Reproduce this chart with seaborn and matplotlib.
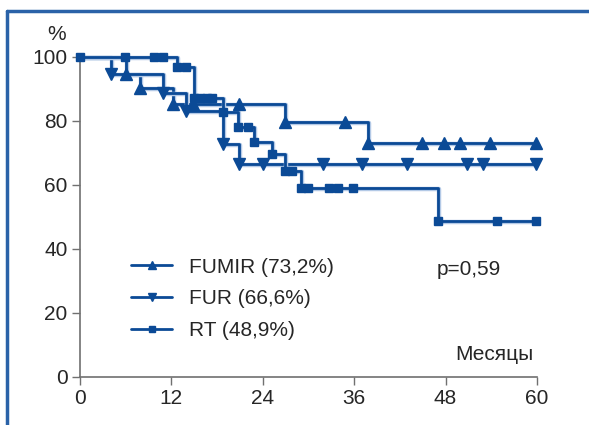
import numpy as np
import pandas as pd
import matplotlib
matplotlib.use("Agg")
import matplotlib.pyplot as plt
import matplotlib.patheffects as pe
from matplotlib.lines import Line2D
import seaborn as sns

# Kaplan-Meier: temps (mois) et survie (%) pour chaque point marqué
fumir_t = [0, 6.0, 7.9, 12.2, 14.8, 20.9, 26.9, 34.8, 37.8, 44.9, 47.8, 49.9, 53.8, 59.9]
fumir_s = [100, 94.8, 90.3, 85.2, 85.2, 85.2, 79.7, 79.7, 73.2, 73.2, 73.2, 73.2, 73.2, 73.2]

fur_t = [0, 4.1, 10.9, 13.9, 18.8, 20.9, 24.0, 31.9, 37.0, 42.9, 50.8, 52.9, 59.9]
fur_s = [100, 94.7, 88.8, 83.1, 72.8, 66.6, 66.6, 66.6, 66.6, 66.6, 66.6, 66.6, 66.6]

rt_t = [0, 5.9, 9.7, 10.9, 12.7, 13.9, 15.0, 15.8, 16.7, 17.3, 18.8, 20.7, 22.1,
        22.8, 25.2, 26.9, 27.8, 29.0, 29.9, 32.7, 33.9, 35.8, 47.0, 54.7, 59.9]
rt_s = [100, 100, 100, 100, 97.0, 97.0, 87.2, 87.2, 87.2, 87.2, 82.8, 78.2, 78.2,
        73.4, 69.7, 64.4, 64.4, 59.2, 59.2, 59.2, 59.2, 59.2, 48.9, 48.9, 48.9]

labels = ["FUMIR (73,2%)", "FUR (66,6%)", "RT (48,9%)"]
x_ticks = [0, 12, 24, 36, 48, 60]
y_ticks = [0, 20, 40, 60, 80, 100]

frames = []
for lab, t, s in zip(labels, [fumir_t, fur_t, rt_t], [fumir_s, fur_s, rt_s]):
    frames.append(pd.DataFrame({"mois": t, "survie": s, "groupe": lab}))
df = pd.concat(frames, ignore_index=True)

sns.set_style("white")
plt.rcParams["font.family"] = ["Liberation Sans Narrow", "Liberation Sans", "DejaVu Sans"]

bleu = "#0b4a96"
ombre = [pe.Stroke(linewidth=3.2, foreground="#b3c9e6", offset=(0.8, -0.8)), pe.Normal()]

fig = plt.figure(figsize=(5.89, 4.25), dpi=100)
ax = fig.add_axes([80 / 589, 1 - 377 / 425, 457 / 589, 320 / 425])

markers = {"FUMIR (73,2%)": "^", "FUR (66,6%)": "v", "RT (48,9%)": "s"}
msize = {"FUMIR (73,2%)": 8, "FUR (66,6%)": 8, "RT (48,9%)": 6}
for lab in labels:
    sub = df[df["groupe"] == lab]
    sns.lineplot(data=sub, x="mois", y="survie", ax=ax, color=bleu, lw=2,
                 drawstyle="steps-post", estimator=None, legend=False,
                 path_effects=ombre, clip_on=False)
    # le point de départ n'a qu'un carré visible
    debut = 0 if markers[lab] == "s" else 1
    ax.plot(sub["mois"], sub["survie"], ls="none", marker=markers[lab],
            ms=msize[lab], color=bleu, clip_on=False, zorder=5,
            markevery=slice(debut, None))

ax.set_xlim(0, 60)
ax.set_ylim(0, 100)
ax.set_xticks(x_ticks)
ax.set_yticks(y_ticks)
ax.tick_params(axis="both", labelsize=15, length=6, width=1, color="#707070",
               direction="out", left=True, bottom=True, pad=3)
for side in ["top", "right"]:
    ax.spines[side].set_visible(False)
for side in ["left", "bottom"]:
    ax.spines[side].set_color("#707070")
    ax.spines[side].set_linewidth(1.2)
ax.set_xlabel("")
ax.set_ylabel("")

ax.text(-1.8, 104, "%", fontsize=15, ha="right", va="bottom")
ax.text(59.5, 4, "Месяцы", fontsize=15, ha="right", va="bottom")
ax.text(46.8, 33.5, "p=0,59", fontsize=15, ha="left", va="center")

handles = [Line2D([], [], color=bleu, lw=2, marker=markers[l], ms=msize[l] - 2) for l in labels]
ax.legend(handles, labels, loc="upper left", bbox_to_anchor=(0.07, 0.432),
          frameon=False, fontsize=15, handlelength=2.0, labelspacing=0.62,
          handletextpad=0.8)

# cadre bleu de la figure
fig.add_artist(Line2D([7 / 589, 7 / 589], [0, 1 - 11 / 425], color="#2a62a8", lw=2.5))
fig.add_artist(Line2D([7 / 589, 1], [1 - 11 / 425, 1 - 11 / 425], color="#2a62a8", lw=2.5))

fig.savefig("out.png", dpi=100)
